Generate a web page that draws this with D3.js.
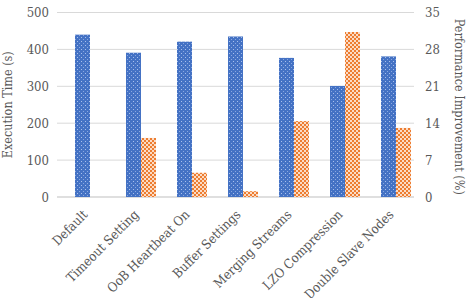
<!DOCTYPE html>
<html><head><meta charset="utf-8">
<script src="https://cdn.jsdelivr.net/npm/d3@7"></script>
<style>body{margin:0;background:#fff}svg{display:block}
svg text{font-stretch:condensed;}</style>
</head><body><svg id="c" width="469" height="298"></svg>
<script>
const categories = ["Default","Timeout Setting","OoB Heartbeat On","Buffer Settings","Merging Streams","LZO Compression","Double Slave Nodes"];
const execTime = [440, 391, 421, 435, 377, 301, 381];
const perfImprovement = [null, 11.2, 4.6, 1.1, 14.4, 31.3, 13.1];
const leftTicks = [0,100,200,300,400,500];
const rightTicks = [0,7,14,21,28,35];

const svg = d3.select("#c");
const L = 57, R = 414, T = 12.5, B = 197;
const FF = "'DejaVu Serif Condensed', 'DejaVu Serif', serif";

const defs = svg.append("defs");
const pb = defs.append("pattern").attr("id","pb").attr("patternUnits","userSpaceOnUse").attr("width",4).attr("height",4);
pb.append("rect").attr("width",4).attr("height",4).attr("fill","#4472C4");
pb.append("rect").attr("x",1).attr("y",1).attr("width",1).attr("height",1).attr("fill","#a9c0ec");
pb.append("rect").attr("x",3).attr("y",3).attr("width",1).attr("height",1).attr("fill","#8aa8e0");
const po = defs.append("pattern").attr("id","po").attr("patternUnits","userSpaceOnUse").attr("width",4).attr("height",4);
po.append("rect").attr("width",4).attr("height",4).attr("fill","#fbdcc6");
po.append("rect").attr("x",0).attr("y",0).attr("width",2).attr("height",2).attr("fill","#ED7D31");
po.append("rect").attr("x",2).attr("y",2).attr("width",2).attr("height",2).attr("fill","#ED7D31");

const x0 = d3.scaleBand().domain(categories).range([L,R]).padding(0);
const x1 = d3.scaleBand().domain(["time","perf"]).range([18,48]);
const yL = d3.scaleLinear().domain([0,500]).range([B,T]);
const yR = d3.scaleLinear().domain([0,35]).range([B,T]);

svg.append("g").selectAll("line").data(leftTicks).join("line")
  .attr("x1",L).attr("x2",R).attr("y1",d=>yL(d)).attr("y2",d=>yL(d))
  .attr("stroke",d=>d===0?"#bfbfbf":"#d9d9d9").attr("stroke-width",1);

const gl = svg.append("g").attr("transform",`translate(${L},0)`)
  .call(d3.axisLeft(yL).tickValues(leftTicks).tickSize(0).tickPadding(8));
gl.attr("font-family",FF);
gl.select(".domain").remove();
gl.selectAll("text").style("font-family",FF).attr("font-size",13).attr("fill","#595959");

const gr = svg.append("g").attr("transform",`translate(${R},0)`)
  .call(d3.axisRight(yR).tickValues(rightTicks).tickSize(0).tickPadding(11));
gr.attr("font-family",FF);
gr.select(".domain").remove();
gr.selectAll("text").style("font-family",FF).attr("font-size",13).attr("fill","#595959");

svg.append("g").selectAll("rect").data(categories).join("rect")
  .attr("x",(d)=>x0(d)+x1("time")).attr("width",x1.bandwidth())
  .attr("y",(d,i)=>yL(execTime[i])).attr("height",(d,i)=>B-yL(execTime[i]))
  .attr("fill","url(#pb)");
svg.append("g").selectAll("rect").data(categories.filter((d,i)=>perfImprovement[i]!=null)).join("rect")
  .attr("x",(d)=>x0(d)+x1("perf")).attr("width",x1.bandwidth())
  .attr("y",d=>yR(perfImprovement[categories.indexOf(d)]))
  .attr("height",d=>B-yR(perfImprovement[categories.indexOf(d)]))
  .attr("fill","url(#po)");

svg.append("g").selectAll("text").data(categories).join("text")
  .attr("transform",d=>`translate(${x0(d)+x1("perf")-8},${B+12}) rotate(-45)`)
  .attr("text-anchor","end").attr("dy","0.7em")
  .style("font-family",FF).attr("font-size",13).attr("fill","#595959")
  .text(d=>d);

svg.append("text").attr("transform",`translate(12,${(T+B)/2}) rotate(-90)`)
  .attr("text-anchor","middle").style("font-family",FF).attr("font-size",12.5).attr("fill","#595959")
  .text("Execution Time (s)");
svg.append("text").attr("transform",`translate(455,${(T+B)/2+2}) rotate(90)`)
  .attr("text-anchor","middle").style("font-family",FF).attr("font-size",12.5).attr("fill","#595959")
  .text("Performance Improvement (%)");
</script></body></html>
